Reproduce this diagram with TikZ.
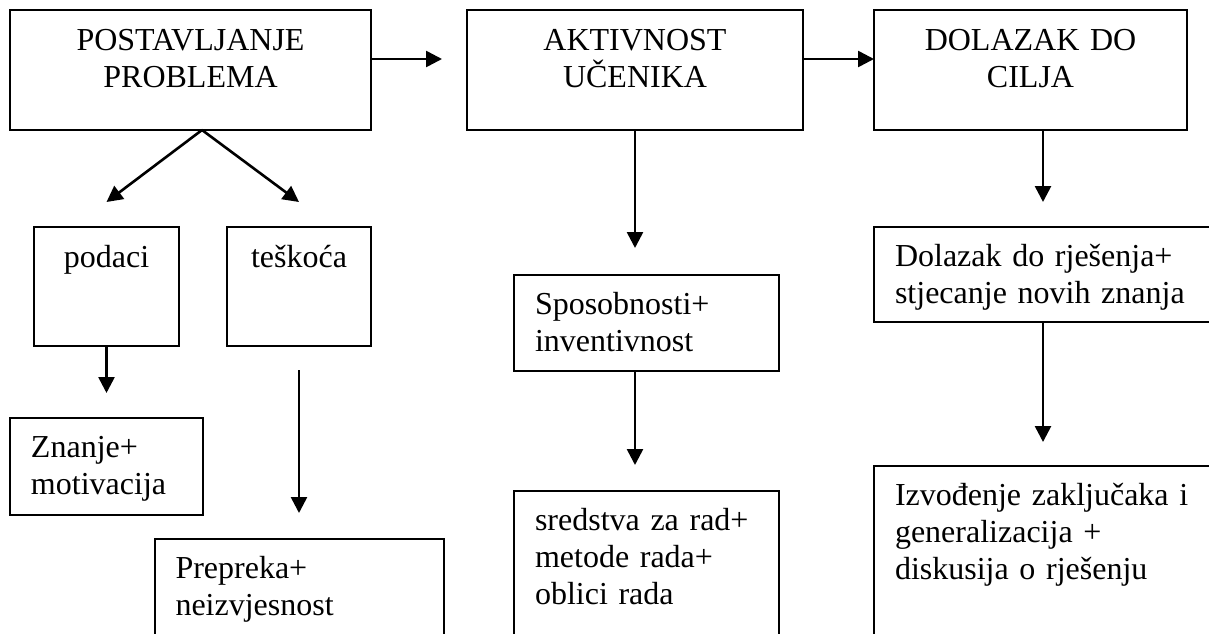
\documentclass[tikz,border=0pt]{standalone}
\usepackage{fontspec}
\setmainfont{Liberation Serif}
\usepackage{tikz}
\usetikzlibrary{arrows.meta,positioning,calc}

\begin{document}
\begin{tikzpicture}[
    auto,
    >={Triangle[length=8pt,width=8pt]},
    every node/.style={font=\fontsize{16pt}{18.5pt}\selectfont},
    headbox/.style={draw, rectangle, line width=1pt, outer sep=0pt, align=center, inner xsep=5pt, inner ysep=0pt, text height=20pt, text depth=40pt},
    midbox/.style={draw, rectangle, line width=1pt, outer sep=0pt, align=center, inner xsep=5pt, inner ysep=0pt, text height=20pt, text depth=39.5pt},
    textbox/.style={draw, rectangle, line width=1pt, outer sep=0pt, align=left, inner xsep=10.5pt, inner ysep=0pt, text height=19.5pt},
    connector/.style={->, line width=1.3pt}
]

    \path [use as bounding box, clip] (0,0) rectangle (604.5pt,-316.5pt);

    % top row
    \node [headbox, text width=170.5pt] (prob) at (95.25pt,-35pt) {POSTAVLJANJE\\PROBLEMA};
    \node [headbox, text width=158pt, right=48pt of prob] (akt) {AKTIVNOST\\UČENIKA};
    \node [headbox, text width=146.5pt, right=35.5pt of akt] (cilj) {DOLAZAK DO\\CILJA};

    % left column
    \node [midbox, text width=62.5pt, below=48.5pt of prob, xshift=-42pt] (podaci) {podaci};
    \node [midbox, text width=62pt, right=24pt of podaci] (teskoca) {teškoća};
    \node [textbox, text width=75.5pt, text depth=29pt, below=36pt of podaci] (znanje) {Znanje+\\motivacija};
    \node [textbox, text width=123.5pt, text depth=40.5pt, below=96.5pt of teskoca] (prepreka) {Prepreka+\\neizvjesnost};

    % middle column
    \node [textbox, text width=111.5pt, text depth=28.5pt, below=72.5pt of akt, xshift=5.75pt] (sposob) {Sposobnosti+\\inventivnost};
    \node [textbox, text width=111.5pt, text depth=60.5pt, below=60pt of sposob] (sredstva) {sredstva za rad+\\metode rada+\\oblici rada};

    % right column
    \node [textbox, text width=152pt, text depth=28pt, below=48.5pt of cilj, xshift=8.25pt] (rjesenje) {Dolazak do rješenja+\\stjecanje novih znanja};
    \node [textbox, text width=152pt, text depth=70.5pt, below=72pt of rjesenje] (izvod) {Izvođenje zaključaka i\\generalizacija +\\diskusija o rješenju};

    % arrows along the top
    \coordinate (prob_out) at ($(prob.east)+(0,5.5pt)$);
    \coordinate (akt_in) at ($(akt.west)+(-12.5pt,5.5pt)$);
    \draw [connector] (prob_out) -- (akt_in);
    \draw [connector] ($(akt.east)+(0,5.5pt)$) -- ($(cilj.west)+(0,5.5pt)$);

    % left branch
    \coordinate (split) at ($(prob.south)+(5.75pt,0)$);
    \draw [connector] (split) -- ($(podaci.north)+(0,12.5pt)$);
    \draw [connector] (split) -- ($(teskoca.north)+(0,12.5pt)$);
    \draw [connector] (podaci.south) -- ($(znanje.north)+(0,12.5pt)$);
    \draw [connector] ($(teskoca.south)+(0,-12pt)$) -- ($(teskoca.south |- prepreka.north)+(0,13pt)$);

    % middle branch
    \draw [connector] (akt.south) -- ($(akt.south |- sposob.north)+(0,13.5pt)$);
    \draw [connector] (akt.south |- sposob.south) -- ($(akt.south |- sredstva.north)+(0,13pt)$);

    % right branch
    \coordinate (cilj_out) at ($(cilj.south)+(6.25pt,0)$);
    \draw [connector] (cilj_out) -- ($(cilj_out |- rjesenje.north)+(0,12.5pt)$);
    \draw [connector] (cilj_out |- rjesenje.south) -- ($(cilj_out |- izvod.north)+(0,12pt)$);

\end{tikzpicture}
\end{document}
